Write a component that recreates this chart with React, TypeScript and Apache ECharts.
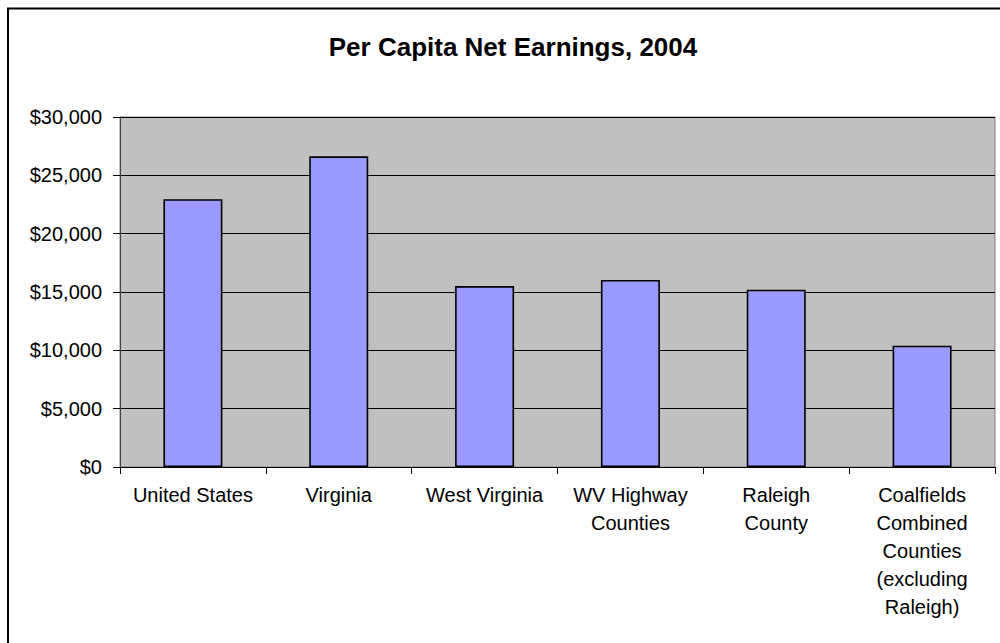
import React, { useEffect, useRef } from "react";
import * as echarts from "echarts";

const TITLE = "Per Capita Net Earnings, 2004";
const categories = [
  "United States",
  "Virginia",
  "West Virginia",
  "WV Highway\nCounties",
  "Raleigh\nCounty",
  "Coalfields\nCombined\nCounties\n(excluding\nRaleigh)",
];
const earnings = [22950, 26630, 15510, 16030, 15200, 10400];
const yMin = 0;
const yMax = 30000;
const yStep = 5000;

const fmtMoney = (v: number) =>
  "$" + String(v).replace(/\B(?=(\d{3})+(?!\d))/g, ",");

export default function App() {
  const ref = useRef<HTMLDivElement>(null);
  useEffect(() => {
    if (!ref.current) return;
    const chart = echarts.init(ref.current, undefined, { renderer: "svg" });
    const font = "'Liberation Sans', Arial, sans-serif";
    chart.setOption({
      animation: false,
      backgroundColor: "#ffffff",
      title: {
        text: TITLE,
        left: 508,
        top: 29,
        textAlign: "center",
        textStyle: {
          fontFamily: font,
          fontSize: 26,
          fontWeight: "bold",
          color: "#000000",
        },
      },
      graphic: [
        {
          type: "rect",
          shape: { x: 8, y: 8.5, width: 1200, height: 1000 },
          style: { fill: "none", stroke: "#000000", lineWidth: 2 },
          silent: true,
        },
      ],
      grid: {
        left: 120,
        top: 117,
        width: 875,
        height: 350,
        show: true,
        backgroundColor: "#C0C0C0",
        borderColor: "#808080",
        borderWidth: 1,
      },
      xAxis: {
        type: "category",
        data: categories,
        axisLine: { show: true, lineStyle: { color: "#000000", width: 1 } },
        axisTick: { show: true, length: 7, lineStyle: { color: "#000000" } },
        axisLabel: {
          interval: 0,
          margin: 14,
          fontFamily: font,
          fontSize: 20,
          lineHeight: 28,
          color: "#000000",
          align: "center",
          verticalAlign: "top",
        },
        splitLine: { show: false },
      },
      yAxis: {
        type: "value",
        min: yMin,
        max: yMax,
        interval: yStep,
        axisLine: { show: true, lineStyle: { color: "#404040", width: 1 } },
        axisTick: { show: true, length: 7, lineStyle: { color: "#000000" } },
        axisLabel: {
          margin: 18,
          fontFamily: font,
          fontSize: 20,
          color: "#000000",
          formatter: (v: number) => fmtMoney(v),
        },
        splitLine: { show: true, lineStyle: { color: "#000000", width: 1 } },
      },
      series: [
        {
          type: "bar",
          data: earnings,
          barWidth: 59,
          itemStyle: {
            color: "#9999FF",
            borderColor: "#000000",
            borderWidth: 1.6,
          },
        },
      ],
    });
    return () => chart.dispose();
  }, []);
  return (
    <div
      style={{
        position: "fixed",
        left: 0,
        top: 0,
        width: 1000,
        height: 643,
        overflow: "hidden",
        background: "#ffffff",
      }}
    >
      <div ref={ref} style={{ width: 1000, height: 643 }} />
    </div>
  );
}
